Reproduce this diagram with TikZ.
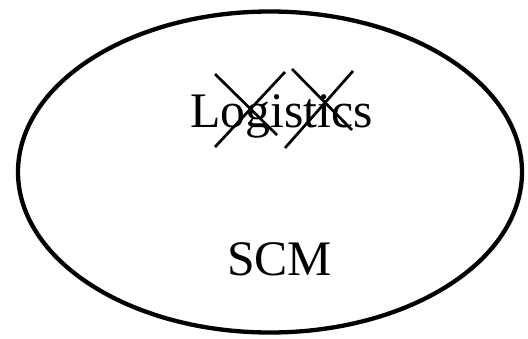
\documentclass[tikz,border=0pt]{standalone}
\usepackage{fontspec}
\setmainfont{Liberation Serif}
\usetikzlibrary{shapes.geometric}
\begin{document}
\begin{tikzpicture}[x=1pt,y=-1pt,
  lbl/.style={inner sep=0pt,anchor=base west,font=\fontsize{49.7}{58}\selectfont},
  strike/.style={line width=2.7pt,black}]
\useasboundingbox (0,0) rectangle (528,338);
\node[draw,line width=4.3pt,ellipse,minimum width=504,minimum height=321,inner sep=0pt] (scmset) at (270,172) {};
\node[lbl] (logi) at (190,127) {Logistics};
\node[lbl] (scm) at (227,275) {SCM};
\coordinate (a1) at (215,74);
\coordinate (a2) at (277,135);
\coordinate (b1) at (285,72);
\coordinate (b2) at (215,147);
\coordinate (c1) at (292,69);
\coordinate (c2) at (352,130);
\coordinate (d1) at (353,71);
\coordinate (d2) at (285,148);
\draw[strike] (a1) -- (a2);
\draw[strike] (b1) -- (b2);
\draw[strike] (c1) -- (c2);
\draw[strike] (d1) -- (d2);
\end{tikzpicture}
\end{document}
